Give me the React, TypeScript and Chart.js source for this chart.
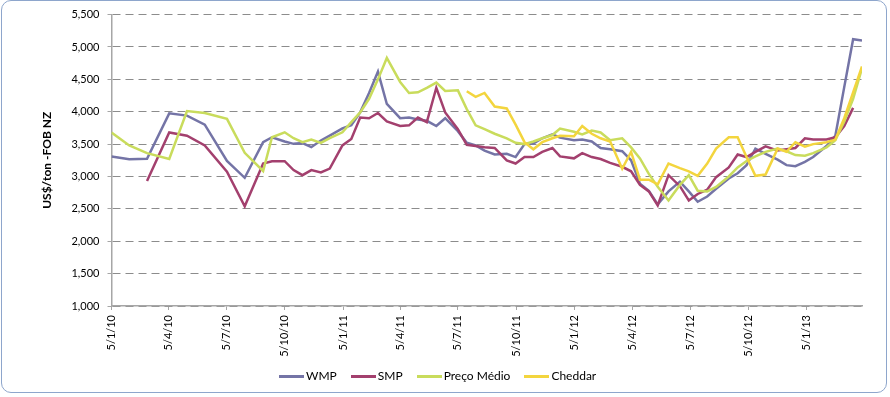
import React, { useEffect, useRef } from "react";
import { Chart, registerables } from "chart.js";

Chart.register(...registerables);

// GDT auction dates (x values)
const dates = [
  "2010-01-05", "2010-02-02", "2010-03-02", "2010-04-06", "2010-05-04", "2010-06-01", "2010-07-06", "2010-08-03",
  "2010-09-01", "2010-09-15", "2010-10-05", "2010-10-19", "2010-11-02", "2010-11-16", "2010-12-01", "2010-12-15",
  "2011-01-04", "2011-01-18", "2011-02-01", "2011-02-15", "2011-03-01", "2011-03-15", "2011-04-05", "2011-04-19",
  "2011-05-03", "2011-05-17", "2011-06-01", "2011-06-15", "2011-07-05", "2011-07-19", "2011-08-02", "2011-08-16",
  "2011-09-01", "2011-09-20", "2011-10-04", "2011-10-18", "2011-11-01", "2011-11-15", "2011-12-01", "2011-12-13",
  "2012-01-04", "2012-01-17", "2012-02-01", "2012-02-15", "2012-03-01", "2012-03-20", "2012-04-03", "2012-04-17",
  "2012-05-01", "2012-05-15", "2012-06-01", "2012-06-19", "2012-07-03", "2012-07-17", "2012-08-01", "2012-08-15",
  "2012-09-04", "2012-09-18", "2012-10-02", "2012-10-16", "2012-11-01", "2012-11-20", "2012-12-04", "2012-12-18",
  "2013-01-02", "2013-01-15", "2013-02-05", "2013-02-19", "2013-03-05", "2013-03-19", "2013-04-02",
];

const wmp = [
  3310, 3265, 3275, 3975, 3940, 3800, 3240, 2980, 3530, 3606, 3540, 3504, 3515, 3453, 3555, 3632,
  3743, 3793, 3990, 4290, 4620, 4120, 3900, 3910, 3880, 3860, 3780, 3900, 3700, 3520, 3480, 3400,
  3340, 3350, 3300, 3500, 3510, 3590, 3650, 3600,
  3560, 3570, 3540, 3440, 3420, 3390, 3250, 2890, 2780, 2570, 2770, 2920, 2770, 2610, 2690, 2810,
  2970, 3050, 3175, 3430, 3350, 3260, 3175, 3160,
  3225, 3300, 3470, 3630, 4380, 5120, 5100,
];

const smp = [
  null, null, 2930, 3680, 3630, 3480, 3073, 2540, 3200, 3236, 3236, 3100, 3020, 3098, 3062, 3123,
  3480, 3580, 3910, 3900, 3980, 3850, 3780, 3790, 3910, 3840, 4370, 3990, 3730, 3490, 3470, 3450,
  3440, 3250, 3200, 3300, 3300, 3380, 3440, 3310,
  3280, 3360, 3300, 3270, 3210, 3150, 3080, 2870, 2770, 2555, 3020, 2850, 2630, 2730, 2795, 2990,
  3140, 3340, 3300, 3380, 3465, 3400, 3420, 3440,
  3590, 3570, 3570, 3605, 3780, 4060, null,
];

const precoMedio = [
  3680, 3480, 3360, 3270, 4010, 3980, 3890, 3365, 3085, 3606, 3682, 3591, 3530, 3571, 3519, 3591,
  3682, 3840, 3990, 4200, 4500, 4830, 4460, 4290, 4300, 4370, 4450, 4320, 4330, 4040, 3790, 3730,
  3660, 3590, 3520, 3500, 3540, 3590, 3640, 3740,
  3690, 3650, 3710, 3680, 3560, 3590, 3450, 3280, 3040, 2840, 2630, 2870, 3020, 2780, 2770, 2840,
  3000, 3140, 3240, 3310, 3380, 3430, 3390, 3330,
  3320, 3360, 3450, 3560, 3850, 4200, 4670,
];

const cheddar = [
  null, null, null, null, null, null, null, null, null, null, null, null, null, null, null, null,
  null, null, null, null, null, null, null, null, null, null, null, null, null, 4317, 4230, 4290,
  4080, 4050, 3800, 3530, 3420, 3530, 3590, 3630,
  3620, 3780, 3660, 3590, 3540, 3120, 3380, 2950, 2950, 2880, 3200, 3130, 3080, 3010, 3200, 3430,
  3606, 3606, 3300, 3010, 3030, 3430, 3380, 3530,
  3460, 3500, 3530, 3570, 3900, 4300, 4700,
];

const seriesNames = ["WMP", "SMP", "Preço Médio", "Cheddar"];
const seriesColors = ["#7474A6", "#A3406E", "#C9DC5C", "#F3D53E"];

const xTickDates = [
  "2010-01-05", "2010-04-05", "2010-07-05", "2010-10-05",
  "2011-01-05", "2011-04-05", "2011-07-05", "2011-10-05",
  "2012-01-05", "2012-04-05", "2012-07-05", "2012-10-05",
  "2013-01-05",
];
const xTickLabels = [
  "5/1/10", "5/4/10", "5/7/10", "5/10/10",
  "5/1/11", "5/4/11", "5/7/11", "5/10/11",
  "5/1/12", "5/4/12", "5/7/12", "5/10/12",
  "5/1/13",
];

const yTickValues = [1000, 1500, 2000, 2500, 3000, 3500, 4000, 4500, 5000, 5500];
const yTickLabels = ["1,000", "1,500", "2,000", "2,500", "3,000", "3,500", "4,000", "4,500", "5,000", "5,500"];
const yTitle = "US$/ton -FOB NZ";

const DAY = 86400000;
const BASE = Date.UTC(2010, 0, 5);
const dayNum = (s: string) => {
  const [y, m, d] = s.split("-").map(Number);
  return (Date.UTC(y, m - 1, d) - BASE) / DAY;
};

const FONT = "Lato, 'Open Sans', 'DejaVu Sans', sans-serif";

export default function App() {
  const ref = useRef<HTMLCanvasElement>(null);

  useEffect(() => {
    const canvas = ref.current;
    if (!canvas) return;
    const all = [wmp, smp, precoMedio, cheddar];
    const datasets = all.map((values, k) => ({
      label: seriesNames[k],
      data: dates.map((d, i) => ({ x: dayNum(d), y: values[i] })),
      borderColor: seriesColors[k],
      backgroundColor: seriesColors[k],
      borderWidth: 2.5,
      pointRadius: 0,
      pointHoverRadius: 0,
      tension: 0,
      fill: false,
      spanGaps: false,
      order: 3 - k,
    }));

    const chart = new Chart(canvas, {
      type: "line",
      data: { datasets },
      options: {
        responsive: false,
        animation: false,
        devicePixelRatio: 1,
        layout: { padding: { top: 10.5, right: 28, bottom: 0, left: 0 } },
        plugins: {
          legend: { display: false },
          tooltip: { enabled: false },
        },
        scales: {
          x: {
            type: "linear",
            position: "bottom",
            min: 0,
            max: dayNum("2013-04-02"),
            afterBuildTicks: (s: any) => {
              s.ticks = xTickDates.map((d) => ({ value: dayNum(d) }));
            },
            afterFit: (s: any) => {
              s.height = 91;
            },
            ticks: {
              autoSkip: false,
              minRotation: 90,
              maxRotation: 90,
              padding: 5,
              color: "#000",
              font: { family: FONT, size: 11 },
              callback: (_v: any, i: number) => xTickLabels[i],
            },
            grid: {
              drawOnChartArea: false,
              drawTicks: true,
              tickLength: 4,
              color: "#A6A6A6",
            },
            border: { display: true, color: "#A6A6A6", width: 1.5 },
          },
          y: {
            type: "linear",
            position: "left",
            min: 1000,
            max: 5500,
            afterBuildTicks: (s: any) => {
              s.ticks = yTickValues.map((v) => ({ value: v }));
            },
            afterFit: (s: any) => {
              s.width = 111.5;
            },
            ticks: {
              padding: 8,
              color: "#000",
              font: { family: FONT, size: 11 },
              callback: (_v: any, i: number) => yTickLabels[i],
            },
            grid: {
              color: "#8C8C8C",
              lineWidth: 1,
              drawTicks: true,
              tickLength: 4,
              tickColor: "#A6A6A6",
            },
            border: { display: true, color: "#A6A6A6", width: 1.5, dash: [8, 5] },
            title: {
              display: true,
              text: yTitle,
              color: "#000",
              font: { family: FONT, size: 12, weight: "bold" },
              padding: { top: 40, bottom: 0 },
            },
          },
        },
      },
    } as any);
    return () => chart.destroy();
  }, []);

  return (
    <div
      style={{
        position: "fixed",
        left: 0,
        top: 0,
        width: 890,
        height: 397,
        background: "#fff",
        overflow: "hidden",
      }}
    >
      <div
        style={{
          position: "absolute",
          left: 1,
          top: 0,
          width: 886,
          height: 393,
          border: "1px solid #8EA6CC",
          borderRadius: 10,
          boxSizing: "border-box",
        }}
      />
      <canvas
        ref={ref}
        width={890}
        height={397}
        style={{ position: "absolute", left: 0, top: 0, width: 890, height: 397 }}
      />
      <div
        style={{
          position: "absolute",
          left: 279,
          top: 369,
          display: "flex",
          alignItems: "center",
          fontFamily: FONT,
          fontSize: 12,
          color: "#000",
          whiteSpace: "nowrap",
          lineHeight: "14px",
        }}
      >
        {seriesNames.map((n, k) => (
          <div key={n} style={{ display: "flex", alignItems: "center", marginRight: k < 3 ? 14 : 0 }}>
            <span
              style={{
                display: "inline-block",
                width: 25,
                height: 3,
                background: seriesColors[k],
                marginRight: 2,
              }}
            />
            <span>{n}</span>
          </div>
        ))}
      </div>
    </div>
  );
}
